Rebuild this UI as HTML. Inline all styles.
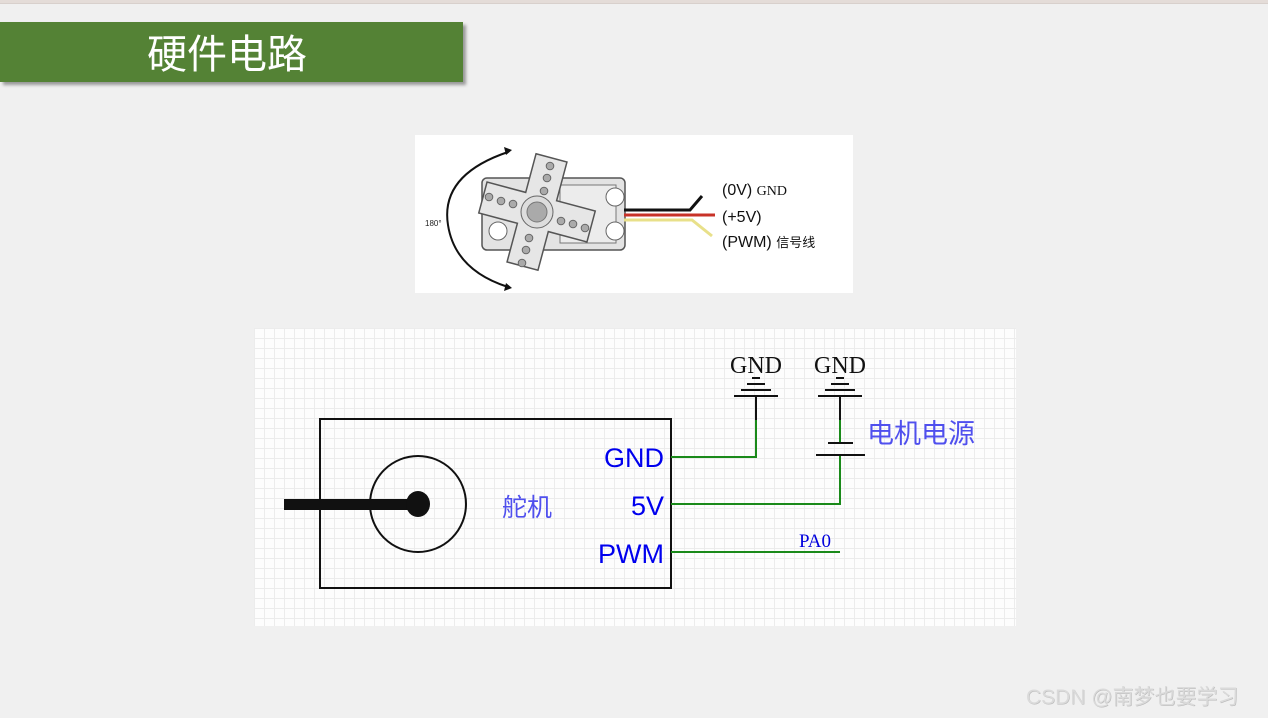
<!DOCTYPE html>
<html><head><meta charset="utf-8"><style>
body{margin:0;width:1268px;height:718px;background:#f0f0f0;position:relative;overflow:hidden;font-family:"Liberation Sans","Noto Sans CJK SC",sans-serif}
.top{position:absolute;left:0;top:0;width:1268px;height:3px;background:#e4dcd8;border-bottom:1px solid #d8d0cc}
.bar{position:absolute;left:0;top:22px;width:463px;height:60px;background:#548235;box-shadow:3px 3px 3px #999;color:#fff;font-size:40px;line-height:58px;text-align:center;font-family:"Noto Sans CJK SC",sans-serif}
.bar span{position:absolute;left:147px;top:0}
.img{position:absolute;left:415px;top:135px;width:438px;height:158px;background:#fff}
.sch{position:absolute;left:254px;top:328px;width:762px;height:298px;background-color:#fdfdfd;background-image:linear-gradient(#ececec 1px,transparent 1px),linear-gradient(90deg,#ececec 1px,transparent 1px);background-size:10px 10px}
.wm{position:absolute;left:1026px;top:681px;font-size:21px;color:#dadada;text-shadow:0.5px 0.5px 0 #b8b8b8}
</style></head><body>
<div class="top"></div>
<div class="bar"><span>硬件电路</span></div>
<div class="img">
<svg width="438" height="158" viewBox="415 135 438 158">
<path d="M508 152 Q440 175 448 225 Q455 270 508 287" fill="none" stroke="#111" stroke-width="2"/>
<path d="M512 150 l-8 -3 l2 8z M512 288 l-8 3 l2 -8z" fill="#111"/>
<text x="425" y="226" font-size="8" fill="#222" font-family="Liberation Sans">180°</text>
<rect x="482" y="178" width="143" height="72" rx="5" fill="#e3e3e3" stroke="#555" stroke-width="1.5"/>
<rect x="560" y="185" width="56" height="58" fill="#ececec" stroke="#777"/>
<circle cx="615" cy="197" r="9" fill="#fff" stroke="#666"/><circle cx="615" cy="231" r="9" fill="#fff" stroke="#666"/>
<circle cx="498" cy="231" r="9" fill="#fff" stroke="#666"/>
<g transform="rotate(15 537 212)" fill="#e6e6e6" stroke="#555" stroke-width="1.5">
<path d="M521 156 h32 v40 h40 v32 h-40 v40 h-32 v-40 h-40 v-32 h40z"/>
</g>
<circle cx="537" cy="212" r="16" fill="#ddd" stroke="#666"/><circle cx="537" cy="212" r="10" fill="#aaa" stroke="#777"/>
<g fill="#aaa" stroke="#666"><circle cx="550" cy="166" r="3.8"/><circle cx="547" cy="178" r="3.8"/><circle cx="544" cy="191" r="3.8"/><circle cx="489" cy="197" r="3.8"/><circle cx="501" cy="201" r="3.8"/><circle cx="513" cy="204" r="3.8"/><circle cx="561" cy="221" r="3.8"/><circle cx="573" cy="224" r="3.8"/><circle cx="585" cy="228" r="3.8"/><circle cx="529" cy="238" r="3.8"/><circle cx="526" cy="250" r="3.8"/><circle cx="522" cy="263" r="3.8"/></g>
<path d="M624 210 H690 L702 196" stroke="#111" stroke-width="3" fill="none"/>
<path d="M624 215 H715" stroke="#c83228" stroke-width="3"/>
<path d="M624 220 H692 L712 236" stroke="#e8e08a" stroke-width="3" fill="none"/>
<text x="722" y="195" font-size="16" fill="#111" font-family="Liberation Sans">(0V) <tspan font-family="Liberation Serif" font-size="14">GND</tspan></text>
<text x="722" y="222" font-size="16" fill="#111" font-family="Liberation Sans">(+5V)</text>
<text x="722" y="247" font-size="16" fill="#111" font-family="Liberation Sans">(PWM) <tspan font-family="Noto Sans CJK SC" font-size="13">信号线</tspan></text>
</svg></div>
<div class="sch">
<svg width="762" height="298" viewBox="254 328 762 298" style="position:absolute;left:0;top:0">
<rect x="320" y="419" width="351" height="169" fill="none" stroke="#111" stroke-width="2"/>
<ellipse cx="418" cy="504" rx="48" ry="48" fill="none" stroke="#111" stroke-width="2"/>
<rect x="284" y="499" width="134" height="11" fill="#111"/>
<ellipse cx="418" cy="504" rx="12" ry="13" fill="#111"/>
<g stroke="#1a8a1a" stroke-width="2" fill="none">
<path d="M671 457 H756 V420"/><path d="M671 504 H840 V455"/><path d="M840 443 V420"/><path d="M671 552 H840"/>
</g>
<g stroke="#111" stroke-width="2">
<path d="M756 420 V396 M840 420 V396"/>
<path d="M734 396 h44 M741 390 h30 M747 384 h18 M752 378 h8"/>
<path d="M818 396 h44 M825 390 h30 M831 384 h18 M836 378 h8"/>
<path d="M828 443 h25 M816 455 h49"/>
</g>
<g font-family="Liberation Serif" font-size="24" fill="#111" text-anchor="middle"><text x="756" y="373">GND</text><text x="840" y="373">GND</text></g>
<text x="815" y="547" font-family="Liberation Serif" font-size="19" fill="#0000dd" text-anchor="middle">PA0</text>
<g font-family="Liberation Sans" font-size="27" fill="#0000ee" text-anchor="end"><text x="664" y="467">GND</text><text x="664" y="515">5V</text><text x="664" y="563">PWM</text></g>
<text x="502" y="516" font-family="Noto Sans CJK SC" font-size="25" fill="#5050ee">舵机</text>
<text x="867" y="443" font-family="Noto Sans CJK SC" font-size="27" fill="#5050ee">电机电源</text>
</svg></div>
<div class="wm">CSDN @南梦也要学习</div>
</body></html>
